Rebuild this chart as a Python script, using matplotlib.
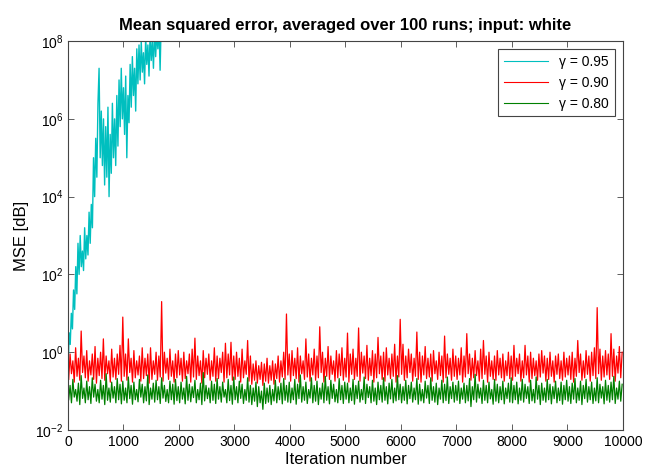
import numpy as np
import matplotlib.pyplot as plt

plt.rcParams['font.family'] = ['Liberation Sans', 'DejaVu Sans']

# gamma = 0.95 diverges: log10(MSE) every 20 iterations
cyan_iter = list(range(0, 1721, 20))
cyan_exp = [-0.7, 0.5, 0.2, 1.0, 0.6, 1.6, 1.1, 2.2, 1.5, 2.8,
            2.0, 3.0, 2.2, 2.6, 2.1, 3.2, 2.4, 3.0, 2.5, 3.6,
            2.8, 3.8, 3.2, 5.0, 4.0, 5.5, 4.5, 6.4, 7.3, 5.0,
            6.2, 4.8, 6.0, 4.3, 5.8, 4.5, 6.3, 4.0, 5.6, 4.6,
            6.4, 5.0, 6.0, 4.8, 6.6, 5.3, 7.0, 5.8, 7.3, 6.0,
            6.8, 5.6, 7.1, 5.0, 6.6, 5.9, 7.4, 6.3, 7.6, 6.6,
            7.3, 6.2, 7.8, 6.9, 7.9, 7.0, 8.0, 7.2, 7.7, 6.9,
            8.1, 7.4, 7.9, 7.1, 8.2, 7.5, 8.0, 7.3, 8.3, 7.6,
            8.2, 7.8, 8.4, 7.25, 8.5, 8.6, 9.0]

# gamma = 0.90 / 0.80: per 50-iteration bin, peak and dip of the noisy curve
red_hi = [0.9, 0.6, 1.3, 0.7, 3.5, 0.8, 1.1, 0.6, 0.9, 1.4, 0.7, 1.0, 2.2, 0.8, 0.6, 1.2, 0.7, 0.9, 1.5, 8.0,
          0.9, 2.2, 0.7, 1.1, 0.6, 0.8, 1.3, 0.7, 0.9, 1.3, 0.6, 1.0, 0.8, 20, 1.0, 0.7, 1.2, 0.6, 0.9, 1.1,
          0.7, 1.0, 0.6, 0.9, 1.2, 2.3, 0.8, 0.6, 1.1, 0.7, 0.9, 0.6, 1.3, 0.8, 0.7, 1.0, 1.7, 0.9, 1.8, 0.8,
          1.0, 0.7, 1.2, 0.6, 2.0, 0.8, 0.5, 0.6, 0.45, 0.55, 0.5, 0.7, 0.45, 0.6, 0.5, 0.8, 0.6, 1.0, 9.6, 0.9,
          1.1, 0.7, 1.3, 0.8, 0.6, 2.2, 0.9, 0.7, 1.2, 0.8, 4.5, 1.0, 0.7, 1.4, 0.8, 0.6, 1.1, 0.9, 1.3, 0.7,
          3.1, 0.9, 1.2, 0.7, 4.2, 1.0, 0.8, 1.5, 0.7, 1.1, 0.9, 2.4, 0.8, 1.0, 1.3, 0.7, 0.9, 1.6, 0.8, 7.0,
          1.6, 0.8, 1.2, 0.9, 0.7, 3.3, 1.0, 0.8, 1.4, 0.7, 0.9, 1.1, 0.6, 1.0, 0.8, 2.6, 0.9, 0.7, 1.2, 0.8,
          0.7, 1.3, 0.8, 3.0, 0.9, 0.7, 1.1, 0.6, 1.2, 2.0, 0.8, 1.0, 0.6, 0.8, 1.1, 0.7, 0.9, 0.6, 1.0, 0.8,
          1.5, 0.7, 0.9, 0.6, 1.5, 0.8, 1.0, 0.7, 0.6, 0.9, 1.1, 0.8, 0.7, 1.0, 0.6, 0.8, 0.9, 0.6, 1.0, 0.7,
          0.8, 1.0, 0.7, 2.0, 0.9, 0.6, 1.1, 0.8, 1.0, 1.3, 14, 1.2, 0.8, 1.1, 0.9, 3.0, 1.2, 0.8, 1.4, 1.0]
red_lo = [0.2, 0.28, 0.17, 0.24, 0.19, 0.3, 0.22, 0.18, 0.26, 0.2, 0.16, 0.25, 0.21, 0.19, 0.28, 0.17, 0.23, 0.2, 0.27, 0.18,
          0.24, 0.19, 0.3, 0.17, 0.22, 0.26, 0.18, 0.21, 0.25, 0.16, 0.2, 0.27, 0.19, 0.23, 0.18, 0.29, 0.2, 0.24, 0.17, 0.22,
          0.26, 0.18, 0.21, 0.28, 0.17, 0.23, 0.2, 0.25, 0.16, 0.22, 0.27, 0.19, 0.24, 0.18, 0.21, 0.3, 0.17, 0.22, 0.26, 0.19,
          0.2, 0.24, 0.17, 0.22, 0.27, 0.18, 0.15, 0.19, 0.16, 0.2, 0.14, 0.18, 0.16, 0.19, 0.15, 0.21, 0.17, 0.23, 0.2, 0.26,
          0.18, 0.25, 0.21, 0.17, 0.28, 0.2, 0.23, 0.18, 0.26, 0.19, 0.22, 0.3, 0.17, 0.24, 0.2, 0.27, 0.18, 0.22, 0.25, 0.19,
          0.23, 0.17, 0.27, 0.2, 0.24, 0.18, 0.29, 0.21, 0.19, 0.25, 0.17, 0.22, 0.28, 0.2, 0.18, 0.26, 0.21, 0.24, 0.17, 0.23,
          0.27, 0.19, 0.22, 0.3, 0.18, 0.24, 0.2, 0.17, 0.26, 0.21, 0.23, 0.18, 0.28, 0.2, 0.25, 0.17, 0.22, 0.27, 0.19, 0.24,
          0.2, 0.26, 0.17, 0.23, 0.28, 0.19, 0.22, 0.25, 0.18, 0.21, 0.27, 0.17, 0.24, 0.2, 0.19, 0.26, 0.22, 0.18, 0.25, 0.21,
          0.19, 0.24, 0.28, 0.18, 0.22, 0.26, 0.17, 0.21, 0.25, 0.19, 0.23, 0.29, 0.18, 0.2, 0.24, 0.17, 0.27, 0.21, 0.19, 0.23,
          0.26, 0.2, 0.17, 0.24, 0.3, 0.19, 0.22, 0.27, 0.18, 0.25, 0.21, 0.28, 0.19, 0.23, 0.26, 0.2, 0.24, 0.18, 0.29, 0.22]
green_hi = [0.14, 0.2, 0.11, 0.16, 0.25, 0.12, 0.18, 0.13, 0.22, 0.15, 0.11, 0.19, 0.14, 0.28, 0.12, 0.17, 0.13, 0.21, 0.15, 0.18,
            0.12, 0.23, 0.14, 0.17, 0.11, 0.2, 0.15, 0.13, 0.26, 0.12, 0.16, 0.19, 0.13, 0.22, 0.14, 0.11, 0.18, 0.15, 0.2, 0.13,
            0.17, 0.12, 0.24, 0.15, 0.13, 0.19, 0.11, 0.16, 0.3, 0.14, 0.12, 0.18, 0.15, 0.21, 0.13, 0.17, 0.11, 0.2, 0.14, 0.23,
            0.13, 0.18, 0.15, 0.11, 0.22, 0.14, 0.12, 0.17, 0.13, 0.1, 0.16, 0.12, 0.14, 0.11, 0.19, 0.13, 0.16, 0.21, 0.14, 0.17,
            0.12, 0.2, 0.15, 0.26, 0.13, 0.17, 0.11, 0.22, 0.14, 0.18, 0.12, 0.16, 0.24, 0.13, 0.19, 0.15, 0.11, 0.21, 0.14, 0.17,
            0.16, 0.12, 0.2, 0.14, 0.18, 0.11, 0.23, 0.15, 0.13, 0.19, 0.12, 0.17, 0.14, 0.22, 0.13, 0.16, 0.2, 0.12, 0.25, 0.15,
            0.13, 0.19, 0.14, 0.17, 0.12, 0.21, 0.15, 0.11, 0.18, 0.14, 0.22, 0.13, 0.16, 0.12, 0.19, 0.15, 0.23, 0.13, 0.17, 0.14,
            0.18, 0.12, 0.16, 0.14, 0.21, 0.13, 0.27, 0.15, 0.12, 0.19, 0.14, 0.17, 0.11, 0.2, 0.15, 0.13, 0.18, 0.12, 0.16, 0.22,
            0.14, 0.17, 0.12, 0.2, 0.15, 0.13, 0.19, 0.11, 0.23, 0.14, 0.16, 0.12, 0.2, 0.15, 0.13, 0.18, 0.12, 0.17, 0.14, 0.19,
            0.13, 0.16, 0.21, 0.12, 0.18, 0.14, 0.2, 0.13, 0.17, 0.12, 0.22, 0.15, 0.13, 0.19, 0.14, 0.17, 0.24, 0.12, 0.18, 0.15]
green_lo = [0.06, 0.05, 0.07, 0.055, 0.045, 0.065, 0.05, 0.06, 0.048, 0.07, 0.055, 0.05, 0.062, 0.045, 0.058, 0.052, 0.066, 0.05, 0.06, 0.047,
            0.058, 0.05, 0.064, 0.046, 0.06, 0.053, 0.07, 0.05, 0.056, 0.045, 0.062, 0.052, 0.06, 0.048, 0.066, 0.054, 0.05, 0.06, 0.046, 0.057,
            0.05, 0.062, 0.047, 0.058, 0.053, 0.068, 0.05, 0.06, 0.045, 0.056, 0.064, 0.05, 0.058, 0.048, 0.062, 0.052, 0.07, 0.05, 0.057, 0.046,
            0.06, 0.05, 0.065, 0.048, 0.058, 0.052, 0.045, 0.055, 0.04, 0.05, 0.034, 0.048, 0.052, 0.045, 0.056, 0.05, 0.06, 0.047, 0.058, 0.052,
            0.05, 0.06, 0.046, 0.064, 0.052, 0.058, 0.048, 0.066, 0.05, 0.055, 0.045, 0.062, 0.05, 0.058, 0.047, 0.065, 0.053, 0.05, 0.06, 0.048,
            0.062, 0.05, 0.057, 0.046, 0.064, 0.052, 0.06, 0.048, 0.068, 0.05, 0.055, 0.045, 0.06, 0.052, 0.058, 0.047, 0.063, 0.05, 0.056, 0.06,
            0.05, 0.058, 0.047, 0.064, 0.052, 0.06, 0.046, 0.056, 0.05, 0.066, 0.048, 0.058, 0.052, 0.045, 0.062, 0.05, 0.057, 0.048, 0.064, 0.052,
            0.058, 0.048, 0.062, 0.05, 0.056, 0.04, 0.06, 0.052, 0.066, 0.048, 0.058, 0.05, 0.063, 0.046, 0.055, 0.05, 0.06, 0.047, 0.064, 0.052,
            0.05, 0.06, 0.047, 0.058, 0.052, 0.065, 0.048, 0.056, 0.05, 0.062, 0.045, 0.058, 0.052, 0.06, 0.047, 0.064, 0.05, 0.057, 0.046, 0.06,
            0.055, 0.048, 0.062, 0.05, 0.058, 0.045, 0.064, 0.052, 0.06, 0.048, 0.056, 0.05, 0.066, 0.047, 0.058, 0.052, 0.06, 0.048, 0.062, 0.055]

labels = ['\u03b3 = 0.95', '\u03b3 = 0.90', '\u03b3 = 0.80']
colors = ['#00bfbf', '#ff0000', '#008000']


def zigzag(lo, hi, step=50):
    # dip then peak inside each bin
    x = np.ravel([[i * step + step * 0.25, i * step + step * 0.75] for i in range(len(lo))])
    y = np.ravel(np.column_stack([lo, hi]))
    return x, y


fig = plt.figure(figsize=(6.57, 4.72), dpi=100)
ax = fig.add_axes([0.1035, 0.089, 0.8445, 0.824])

ax.plot(cyan_iter, [10.0 ** e for e in cyan_exp], color=colors[0], lw=1.0, label=labels[0])
x, y = zigzag(red_lo, red_hi)
ax.plot(x, y, color=colors[1], lw=0.9, label=labels[1])
x, y = zigzag(green_lo, green_hi)
ax.plot(x, y, color=colors[2], lw=0.9, label=labels[2])

ax.set_yscale('log')
ax.set_xlim(0, 10000)
ax.set_ylim(1e-2, 1e8)
ax.set_xticks(np.arange(0, 10001, 1000))
ax.set_yticks([1e-2, 1e0, 1e2, 1e4, 1e6, 1e8])
ax.minorticks_off()
ax.tick_params(direction='in', top=True, right=True, length=4, width=0.6,
               labelsize=10, color='#444444')
for s in ax.spines.values():
    s.set_linewidth(0.8)
    s.set_color('#444444')

ax.set_title('Mean squared error, averaged over 100 runs; input: white',
             fontsize=12, fontweight='bold', pad=8)
ax.set_xlabel('Iteration number', fontsize=12, labelpad=2)
ax.set_ylabel('MSE [dB]', fontsize=12, labelpad=4)

leg = ax.legend(loc='upper right', fontsize=10, fancybox=False, framealpha=1,
                edgecolor='#444444', handlelength=3.2, borderaxespad=0.6,
                labelspacing=0.5)
leg.get_frame().set_linewidth(0.8)
for h in leg.get_lines():
    h.set_linewidth(0.8)

fig.savefig('out.png', dpi=100)
